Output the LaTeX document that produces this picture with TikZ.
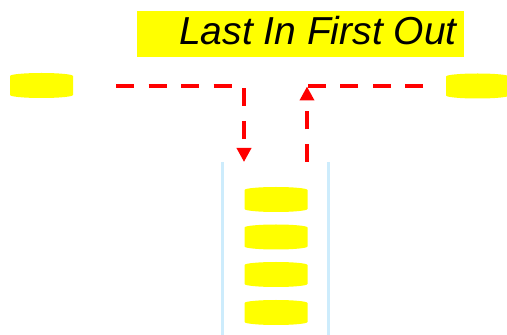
\documentclass[tikz,border=0pt]{standalone}
\usepackage{fontspec}
\setmainfont{Liberation Sans}
\usetikzlibrary{arrows.meta}
\definecolor{tube}{RGB}{205,236,252}
\definecolor{diskyellow}{RGB}{255,255,0}
\definecolor{arrowred}{RGB}{255,0,0}
\tikzset{
  diskbox/.style={minimum width=63pt,minimum height=25pt,inner sep=0pt,outer sep=0pt,
    path picture={\fill[diskyellow]
      ([yshift=-3pt]path picture bounding box.north west)
      arc[start angle=180,end angle=0,x radius=31.5pt,y radius=3pt]
      -- ([yshift=3pt]path picture bounding box.south east)
      arc[start angle=0,end angle=-180,x radius=31.5pt,y radius=3pt]
      -- cycle;}},
  flow/.style={draw=arrowred,line width=4pt,dash pattern=on 18pt off 14.5pt},
  tip/.style={-{Triangle[length=14pt,width=14pt]}},
  tubeline/.style={draw=tube,line width=3pt}
}
\begin{document}
\begin{tikzpicture}[x=1pt,y=1pt]
\useasboundingbox (0,0) rectangle (507,335);
% title
\fill[diskyellow] (137,278) rectangle (464,324);
\node[anchor=base west,inner sep=0pt,font=\fontsize{39}{41}\selectfont\itshape] (title) at (179,290) {Last In First Out};
% disks
\node[diskbox] (d0) at (41.5,249.5) {};
\node[diskbox] (d5) at (477.5,249) {};
\node[diskbox] (d1) at (276,135.5) {};
\node[diskbox] (d2) at (276,98) {};
\node[diskbox] (d3) at (276,60.5) {};
\node[diskbox] (d4) at (276,22.5) {};
% tube
\coordinate (tl1) at (222,173);
\coordinate (tl2) at (222,0);
\coordinate (tr1) at (328,173);
\coordinate (tr2) at (328,0);
\draw[tubeline] (tl1) -- (tl2);
\draw[tubeline] (tr1) -- (tr2);
% push path
\coordinate (pa) at (116,248.5);
\coordinate (pb) at (244,248.5);
\coordinate (pc) at (244,173);
\draw[flow,tip] (pa) -- (pb) -- (pc);
% pop path
\coordinate (qa) at (307,173);
\coordinate (qb) at (307,248.5);
\coordinate (qc) at (423,248.5);
\draw[flow,tip] (qa) -- (qb);
\draw[flow] (qc) -- (qb);
\end{tikzpicture}
\end{document}
